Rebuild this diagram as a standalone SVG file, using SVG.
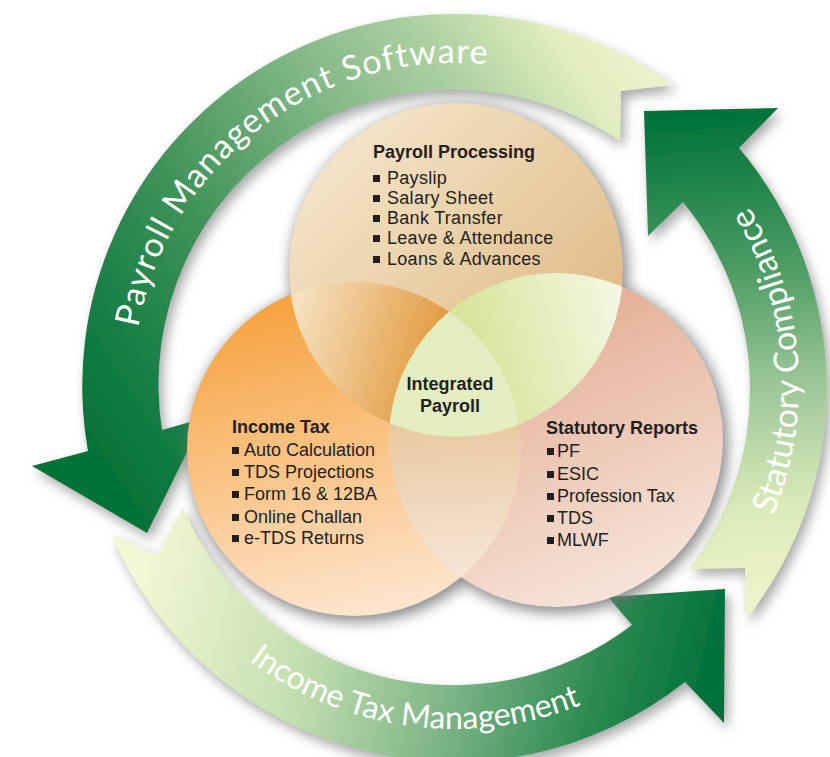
<svg xmlns="http://www.w3.org/2000/svg" width="830" height="757" viewBox="0 0 830 757">
<defs>
<style>
.t{font-family:"Liberation Sans",Arial,Helvetica,sans-serif;fill:#231f20;font-size:18px}
.s{letter-spacing:0.3px}
.b{font-weight:bold}
.al{font-family:Lato,"Open Sans","Noto Sans",sans-serif;fill:#ffffff;font-size:34px}
.bul{fill:#231f20}
</style>
<linearGradient id="gA1" gradientUnits="userSpaceOnUse" x1="690" y1="90" x2="110" y2="470">
<stop offset="0" stop-color="#eef4cf"/><stop offset="0.12" stop-color="#e2edc0"/><stop offset="0.25" stop-color="#b5d5a5"/><stop offset="0.46" stop-color="#80b686"/><stop offset="0.7" stop-color="#3f9258"/><stop offset="0.9" stop-color="#137d43"/><stop offset="1" stop-color="#067338"/>
</linearGradient>
<linearGradient id="gA2" gradientUnits="userSpaceOnUse" x1="740" y1="610" x2="700" y2="120">
<stop offset="0" stop-color="#eef4cc"/><stop offset="0.2" stop-color="#dcebba"/><stop offset="0.45" stop-color="#9cc698"/><stop offset="0.7" stop-color="#4a9b62"/><stop offset="1" stop-color="#02733a"/>
</linearGradient>
<linearGradient id="gA3" gradientUnits="userSpaceOnUse" x1="150" y1="520" x2="720" y2="650">
<stop offset="0" stop-color="#f4f7d3"/><stop offset="0.3" stop-color="#c5e0b0"/><stop offset="0.57" stop-color="#7cb486"/><stop offset="0.8" stop-color="#2f8b52"/><stop offset="1" stop-color="#00703a"/>
</linearGradient>
<linearGradient id="gTop" gradientUnits="userSpaceOnUse" x1="330" y1="130" x2="600" y2="400">
<stop offset="0" stop-color="#f5e6cb"/><stop offset="1" stop-color="#dcb47c"/>
</linearGradient>
<linearGradient id="gLeft" gradientUnits="userSpaceOnUse" x1="320" y1="290" x2="390" y2="615">
<stop offset="0" stop-color="#f6a23f"/><stop offset="1" stop-color="#fde6d0"/>
</linearGradient>
<linearGradient id="gRight" gradientUnits="userSpaceOnUse" x1="500" y1="280" x2="640" y2="600">
<stop offset="0" stop-color="#e1a68a"/><stop offset="1" stop-color="#f7e6dc"/>
</linearGradient>
<linearGradient id="gTL" gradientUnits="userSpaceOnUse" x1="295" y1="310" x2="430" y2="350">
<stop offset="0" stop-color="#f5e1c0"/><stop offset="1" stop-color="#e39f48"/>
</linearGradient>
<linearGradient id="gTR" gradientUnits="userSpaceOnUse" x1="470" y1="330" x2="620" y2="290">
<stop offset="0" stop-color="#d8e59c"/><stop offset="1" stop-color="#f3f7e4"/>
</linearGradient>
<linearGradient id="gLR" gradientUnits="userSpaceOnUse" x1="450" y1="410" x2="460" y2="580">
<stop offset="0" stop-color="#e8c79d"/><stop offset="1" stop-color="#f6e6d8"/>
</linearGradient>
<filter id="ash" x="-20%" y="-20%" width="140%" height="140%">
<feGaussianBlur in="SourceAlpha" stdDeviation="6"/>
<feOffset dx="4" dy="6" result="b"/>
<feFlood flood-color="#6d6e71" flood-opacity="0.6"/>
<feComposite in2="b" operator="in"/>
<feMerge><feMergeNode/><feMergeNode in="SourceGraphic"/></feMerge>
</filter>
<filter id="csh" x="-20%" y="-20%" width="140%" height="140%">
<feGaussianBlur stdDeviation="7"/>
</filter>
<clipPath id="cL"><circle cx="354" cy="449" r="167"/></clipPath>
<clipPath id="cR"><circle cx="556" cy="440" r="167"/></clipPath>
<path id="pTop" d="M152.4,495.1 A322,322 0 0 1 616,106.1"/>
<path id="pRight" d="M676.1,648.5 A344,344 0 0 0 627,87.1"/>
<path id="pBottom" d="M131.7,502.6 A344,344 0 0 0 718.5,606.1"/>
</defs>
<rect width="830" height="757" fill="#ffffff"/>
<g id="connectors">
<g id="arrow-statutory-compliance">
<path d="M747,618 A372,372 0 0 0 739,148 L778,108 L644,111 L648,236 L683,202 A295,295 0 0 1 689,569 L745,568 Z" fill="url(#gA2)" filter="url(#ash)"/>
<text class="al" text-anchor="middle"><textPath href="#pRight" startOffset="49.5%">Statutory Compliance</textPath></text>
</g>
<g id="arrow-income-tax-management">
<path d="M112,535 A372,372 0 0 0 685,682 L724,723 L725,589 L608,597 L632,625 A295,295 0 0 1 183,508 L157,555 Z" fill="url(#gA3)" filter="url(#ash)"/>
<text class="al" text-anchor="middle" style="font-size:32px"><textPath href="#pBottom" startOffset="52%">Income Tax Management</textPath></text>
</g>
<g id="arrow-payroll-management-software">
<path d="M673,85 A372,372 0 0 0 88,451 L32,466 L147,533 L204,418 L162,430 A295,295 0 0 1 620,141 L621,91 Z" fill="url(#gA1)" filter="url(#ash)"/>
<text class="al" text-anchor="middle" letter-spacing="1.2"><textPath href="#pTop" startOffset="52.2%">Payroll Management Software</textPath></text>
</g>
</g>
<g id="venn-shadow" filter="url(#csh)" fill="#6d6e71" opacity="0.8">
<circle cx="357" cy="453" r="169"/>
<circle cx="559" cy="444" r="169"/>
<circle cx="459" cy="274" r="169"/>
</g>
<g id="node-income-tax">
<circle cx="354" cy="449" r="167" fill="url(#gLeft)"/>
<text class="t b" x="232" y="433">Income Tax</text>
<g class="bul"><rect x="232" y="447" width="7" height="7"/><rect x="232" y="469" width="7" height="7"/><rect x="232" y="491" width="7" height="7"/><rect x="232" y="514" width="7" height="7"/><rect x="232" y="535" width="7" height="7"/></g>
<text class="t" x="244" y="456">Auto Calculation</text>
<text class="t" x="244" y="478">TDS Projections</text>
<text class="t" x="244" y="500">Form 16 &amp; 12BA</text>
<text class="t" x="244" y="523">Online Challan</text>
<text class="t" x="244" y="544">e-TDS Returns</text>
</g>
<g id="node-statutory-reports">
<circle cx="556" cy="440" r="167" fill="url(#gRight)"/>
<text class="t b" x="546" y="434">Statutory Reports</text>
<g class="bul"><rect x="547" y="448" width="7" height="7"/><rect x="547" y="471" width="7" height="7"/><rect x="547" y="493" width="7" height="7"/><rect x="547" y="515" width="7" height="7"/><rect x="547" y="537" width="7" height="7"/></g>
<text class="t" x="557" y="457">PF</text>
<text class="t" x="557" y="480">ESIC</text>
<text class="t" x="557" y="502">Profession Tax</text>
<text class="t" x="557" y="524">TDS</text>
<text class="t" x="557" y="546">MLWF</text>
</g>
<g id="node-payroll-processing">
<circle cx="456" cy="270" r="167" fill="url(#gTop)"/>
<text class="t b" x="373" y="158">Payroll Processing</text>
<g class="bul"><rect x="373" y="175" width="7" height="7"/><rect x="373" y="195" width="7" height="7"/><rect x="373" y="215" width="7" height="7"/><rect x="373" y="235" width="7" height="7"/><rect x="373" y="256" width="7" height="7"/></g>
<text class="t s" x="387" y="184">Payslip</text>
<text class="t s" x="387" y="204">Salary Sheet</text>
<text class="t s" x="387" y="224">Bank Transfer</text>
<text class="t s" x="387" y="244">Leave &amp; Attendance</text>
<text class="t s" x="387" y="265">Loans &amp; Advances</text>
</g>
<g id="overlaps">
<circle cx="556" cy="440" r="167" fill="url(#gLR)" clip-path="url(#cL)"/>
<circle cx="456" cy="270" r="167" fill="url(#gTL)" clip-path="url(#cL)"/>
<circle cx="456" cy="270" r="167" fill="url(#gTR)" clip-path="url(#cR)"/>
<g clip-path="url(#cL)"><circle cx="456" cy="270" r="167" fill="#e4edc1" clip-path="url(#cR)"/></g>
</g>
<g id="node-integrated-payroll">
<text class="t b" x="450" y="390" text-anchor="middle">Integrated</text>
<text class="t b" x="450" y="412" text-anchor="middle">Payroll</text>
</g>
</svg>
